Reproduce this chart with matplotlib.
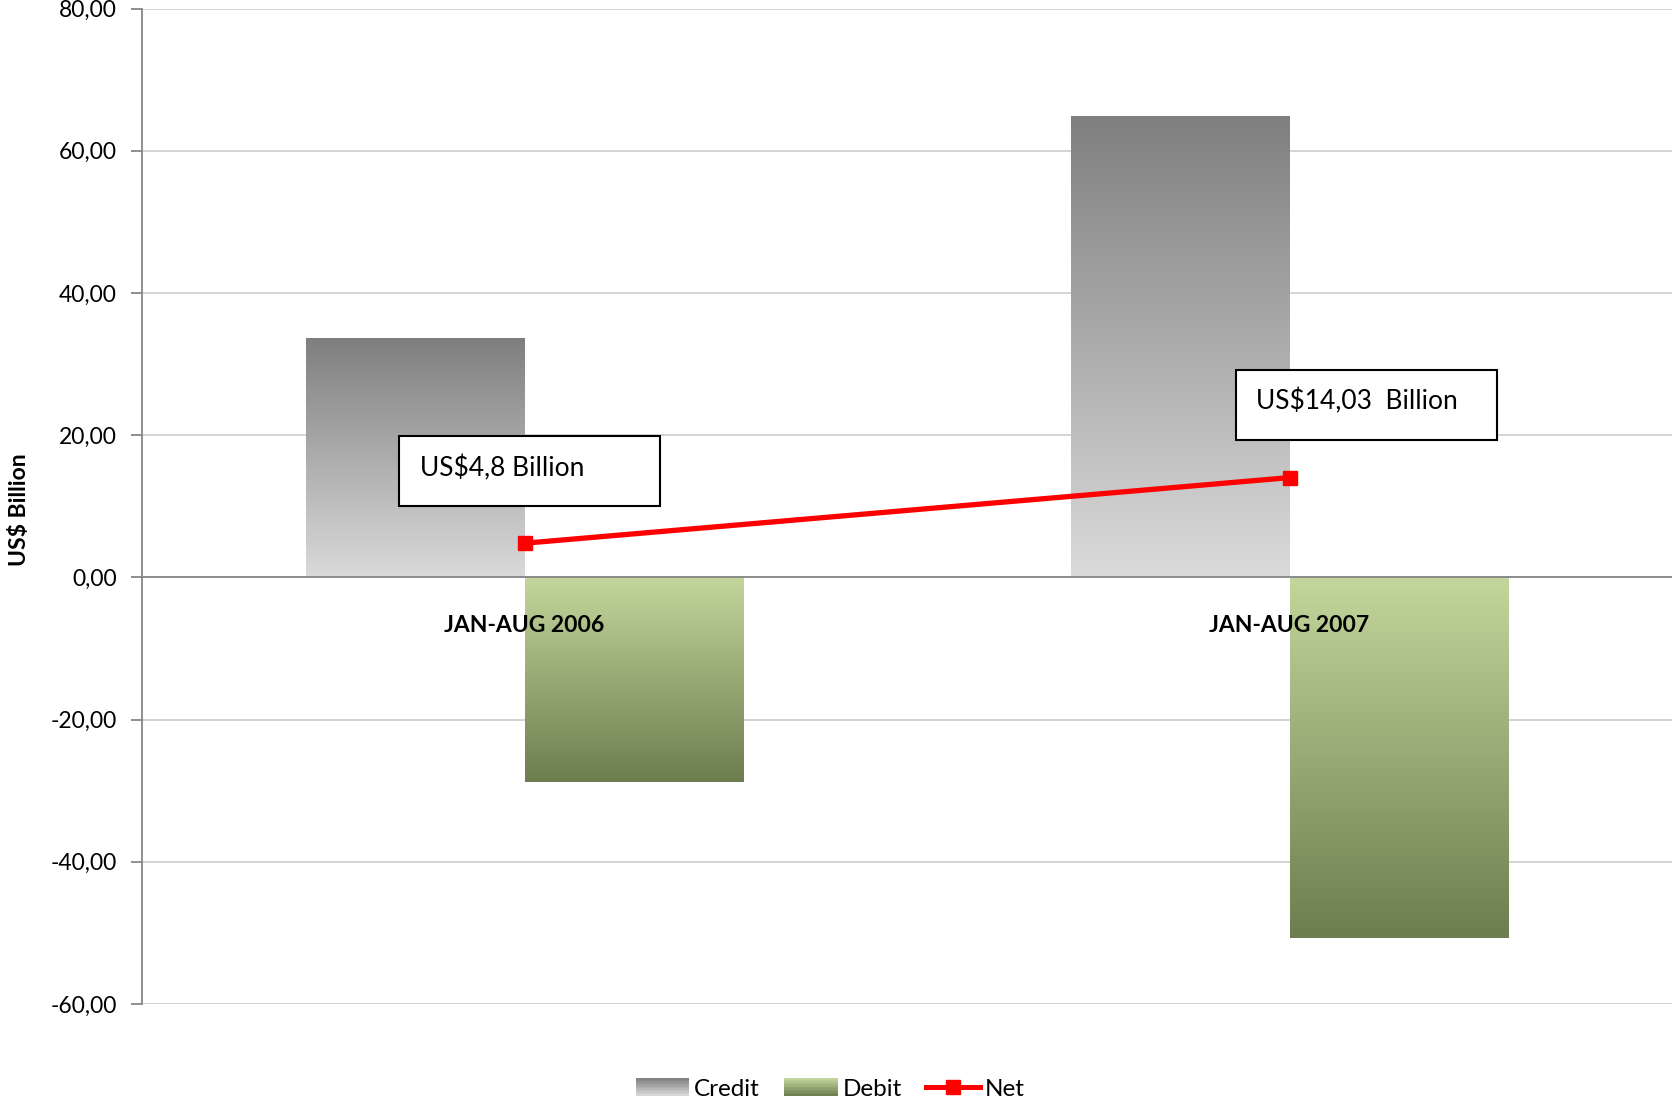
import matplotlib
matplotlib.use('Agg')
import matplotlib.pyplot as plt
import numpy as np
from matplotlib.colors import LinearSegmentedColormap
from matplotlib.patches import Rectangle
from matplotlib.transforms import IdentityTransform
from matplotlib.legend_handler import HandlerBase
from matplotlib.lines import Line2D

plt.rcParams['font.family'] = ['Lato', 'DejaVu Sans']

# data
periods = ['JAN-AUG 2006', 'JAN-AUG 2007']
credit = [33.58, 64.75]
debit = [-28.8, -50.72]
net = [4.8, 14.03]
net_labels = ['US$4,8 Billion', 'US$14,03  Billion']
yticks = [-60, -40, -20, 0, 20, 40, 60, 80]

credit_cmap = LinearSegmentedColormap.from_list('credit', ['#dadada', '#7f7f7f'])
debit_cmap = LinearSegmentedColormap.from_list('debit', ['#6c7e4f', '#c3d69b'])

fig = plt.figure(figsize=(16.72, 11.03), dpi=100)
ax = fig.add_axes([142 / 1672, 1 - 1004 / 1103, 1 - 142 / 1672, (1004 - 8.5) / 1103])

width = 0.286
x = np.arange(len(periods))
grad = np.linspace(0, 1, 256).reshape(-1, 1)

for i in x:
    # credit: left of the category centre, dark at top
    ax.imshow(grad, extent=[i - width, i, 0, credit[i]], origin='lower',
              cmap=credit_cmap, aspect='auto', zorder=2)
    # debit: right of the centre, dark at bottom
    ax.imshow(grad, extent=[i, i + width, debit[i], 0], origin='lower',
              cmap=debit_cmap, aspect='auto', zorder=2)

ax.plot(x, net, color='#ff0000', lw=3.8, marker='s', markersize=10,
        zorder=4, solid_capstyle='butt')

ax.set_xlim(-0.5, 1.5)
ax.set_ylim(-60, 80)
ax.set_yticks(yticks)
ax.set_yticklabels(['%d,00' % v for v in yticks], fontsize=16.5)
ax.yaxis.grid(True, color='#d0d0d0', lw=1.3)
ax.set_axisbelow(True)
ax.tick_params(axis='y', direction='out', length=8, width=1.3, color='#868686', pad=10)
ax.tick_params(axis='x', length=0)
ax.set_xticks([])

for s in ['top', 'right', 'bottom']:
    ax.spines[s].set_visible(False)
ax.spines['left'].set_color('#868686')
ax.spines['left'].set_linewidth(1.3)
ax.axhline(0, color='#868686', lw=1.3, zorder=3)

for i, p in enumerate(periods):
    ax.annotate(p, xy=(i, 0), xytext=(0, -48), textcoords='offset pixels',
                ha='center', va='center', fontsize=16.5, fontweight='bold', zorder=5)

ax.set_ylabel('US$ Billion', fontsize=16.5, fontweight='bold')
ax.yaxis.set_label_coords(-0.073, 0.497)

# boxed labels for the net values (offsets in pixels from the point)
box_offsets = [(-126, 37), (-54, 38)]
for i, (dx, dy) in enumerate(box_offsets):
    px, py = ax.transData.transform((x[i], net[i]))
    r = Rectangle((px + dx, py + dy), 261, 70, transform=IdentityTransform(),
                  facecolor='white', edgecolor='black', lw=1.5, zorder=6)
    fig.add_artist(r)
    fig.text((px + dx + 21) / 1672, (py + dy + 38) / 1103, net_labels[i],
             fontsize=19, ha='left', va='center', zorder=7)


class GradHandler(HandlerBase):
    def __init__(self, cmap):
        super().__init__()
        self.cmap = cmap

    def create_artists(self, legend, orig_handle, xdescent, ydescent, width,
                       height, fontsize, trans):
        arts = []
        n = 12
        for k in range(n):
            r = Rectangle((-xdescent, -ydescent + height * k / n), width, height / n,
                          facecolor=self.cmap((k + 0.5) / n), edgecolor='none',
                          transform=trans)
            arts.append(r)
        return arts


h_credit = Rectangle((0, 0), 1, 1)
h_debit = Rectangle((0, 0), 1, 0.5)
h_net = Line2D([], [], color='#ff0000', lw=3.6, marker='s', markersize=10)
fig.legend([h_credit, h_debit, h_net], ['Credit', 'Debit', 'Net'],
           handler_map={h_credit: GradHandler(credit_cmap),
                        h_debit: GradHandler(debit_cmap)},
           loc='center', bbox_to_anchor=(830 / 1672, 1 - 1089 / 1103),
           ncol=3, frameon=False, fontsize=17.5, handlelength=2.2,
           handleheight=0.7, columnspacing=1.0, handletextpad=0.2)

fig.savefig('out.png', dpi=100)
